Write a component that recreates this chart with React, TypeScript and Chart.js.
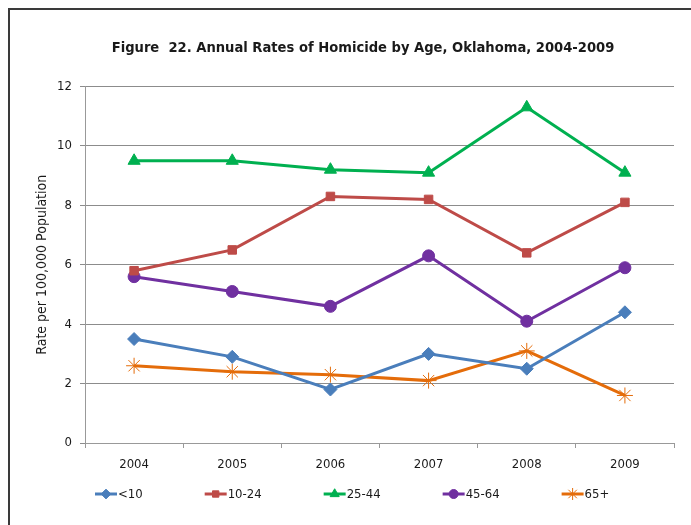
import React, { useEffect, useRef } from "react";
import { Chart, registerables } from "chart.js";
import { drawPoint } from "chart.js/helpers";

Chart.register(...registerables);

const years = ["2004", "2005", "2006", "2007", "2008", "2009"];
const under10 = [3.5, 2.9, 1.8, 3.0, 2.5, 4.4];
const age10to24 = [5.8, 6.5, 8.3, 8.2, 6.4, 8.1];
const age25to44 = [9.5, 9.5, 9.2, 9.1, 11.3, 9.1];
const age45to64 = [5.6, 5.1, 4.6, 6.3, 4.1, 5.9];
const age65plus = [2.6, 2.4, 2.3, 2.1, 3.1, 1.6];
const seriesNames = ["<10", "10-24", "25-44", "45-64", "65+"];
const titleText = "Figure  22. Annual Rates of Homicide by Age, Oklahoma, 2004-2009";
const yTitle = "Rate per 100,000 Population";

const FONT = '"Liberation Sans Narrow", "Arial Narrow", "DejaVu Sans Condensed", sans-serif';

const legendPlugin = {
  id: "excelLegend",
  afterDraw(chart: any) {
    const ctx = chart.ctx as CanvasRenderingContext2D;
    const area = chart.chartArea;
    const y = area.bottom + 51;
    ctx.save();
    ctx.font = `13px ${FONT}`;
    ctx.textBaseline = "middle";
    ctx.textAlign = "left";
    let x = area.left + 10;
    chart.data.datasets.forEach((ds: any) => {
      ctx.strokeStyle = ds.borderColor;
      ctx.lineWidth = 3;
      ctx.beginPath();
      ctx.moveTo(x, y);
      ctx.lineTo(x + 22, y);
      ctx.stroke();
      ctx.fillStyle = ds.pointBackgroundColor;
      ctx.strokeStyle = ds.pointBorderColor;
      ctx.lineWidth = ds.pointBorderWidth;
      drawPoint(ctx, { pointStyle: ds.pointStyle, rotation: 0, borderWidth: ds.pointBorderWidth, radius: ds.pointRadius * 0.75 } as any, x + 11, y);
      ctx.fillStyle = "#1a1a1a";
      ctx.fillText(ds.label, x + 23, y + 1);
      const tw = ctx.measureText(ds.label).width;
      x += 23 + tw + 62;
    });
    ctx.restore();
  },
};

function mk(label: string, data: number[], color: string, style: string, radius: number, bw = 0) {
  return {
    label,
    data,
    borderColor: color,
    backgroundColor: color,
    borderWidth: 3,
    pointStyle: style,
    pointRadius: radius,
    pointHoverRadius: radius,
    pointBackgroundColor: color,
    pointBorderColor: color,
    pointBorderWidth: bw,
    tension: 0,
  };
}

export default function App() {
  const ref = useRef<HTMLCanvasElement>(null);
  useEffect(() => {
    document.body.style.overflow = "hidden";
    document.documentElement.style.overflow = "hidden";
    if (!ref.current) return;
    const chart = new Chart(ref.current, {
      type: "line",
      data: {
        labels: years,
        datasets: [
          mk(seriesNames[0], under10, "#4A7EBB", "rectRot", 6.5, 1),
          mk(seriesNames[1], age10to24, "#BE4B48", "rect", 6, 1),
          mk(seriesNames[2], age25to44, "#00B050", "triangle", 7, 1),
          mk(seriesNames[3], age45to64, "#7030A0", "circle", 6, 1),
          mk(seriesNames[4], age65plus, "#E46C0A", "star", 8, 1),
        ],
      },
      options: {
        responsive: false,
        devicePixelRatio: 1,
        animation: false,
        layout: { padding: { left: 42, right: 46, top: 29, bottom: 47 } },
        plugins: {
          legend: { display: false },
          tooltip: { enabled: false },
          title: {
            display: true,
            text: titleText,
            color: "#1a1a1a",
            font: { family: FONT, size: 14.6, weight: "bold" },
            padding: { top: 0, bottom: 30 },
          },
        },
        scales: {
          x: {
            offset: true,
            grid: { display: true, drawOnChartArea: false, drawTicks: true, tickLength: 5, offset: true, color: "#999" },
            border: { color: "#999", width: 1 },
            ticks: { color: "#1a1a1a", font: { family: FONT, size: 13 }, padding: 9 },
            afterFit: (s: any) => { s.height = 40; },
          },
          y: {
            min: 0,
            max: 12,
            ticks: { stepSize: 2, color: "#1a1a1a", font: { family: FONT, size: 13 }, padding: 8 },
            grid: { color: "#8c8c8c", tickLength: 5, drawTicks: true },
            border: { color: "#999", width: 1 },
            title: { display: true, text: yTitle, color: "#1a1a1a", font: { family: FONT, size: 14 }, padding: { top: -18, bottom: 0 } },
            afterFit: (s: any) => { s.width = 33; },
          },
        },
      },
      plugins: [legendPlugin],
    });
    return () => chart.destroy();
  }, []);
  return (
    <div style={{ position: "absolute", left: 8, top: 8, borderLeft: "2px solid #3a3a3a", borderTop: "2px solid #3a3a3a", width: 720, height: 530, overflow: "hidden" }}>
      <canvas ref={ref} width={710} height={520} style={{ display: "block" }} />
    </div>
  );
}
